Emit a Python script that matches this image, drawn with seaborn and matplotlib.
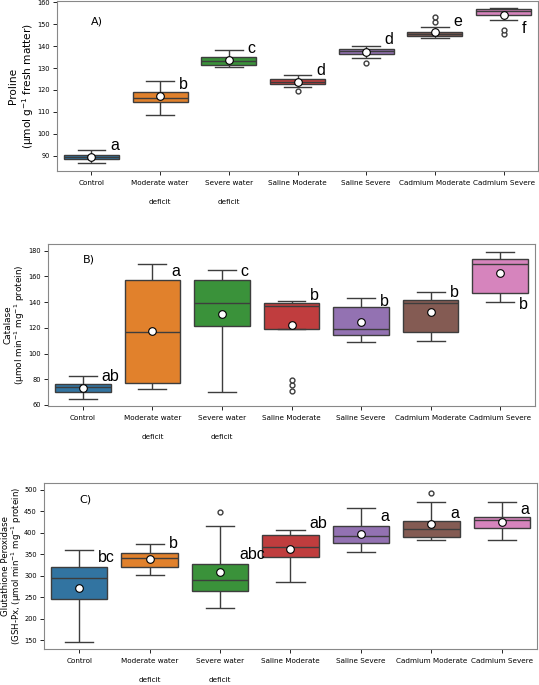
import numpy as np
import pandas as pd
import matplotlib
matplotlib.use("Agg")
import matplotlib.pyplot as plt
import matplotlib.transforms as mtrans
import seaborn as sns

groups = ["Control", "Moderate water deficit", "Severe water deficit",
          "Saline Moderate", "Saline Severe", "Cadmium Moderate", "Cadmium Severe"]
tick_labels = ["Control", "Moderate water\n\ndeficit", "Severe water\n\ndeficit",
               "Saline Moderate", "Saline Severe", "Cadmium Moderate", "Cadmium Severe"]

# samples per treatment (whiskers, quartiles, median, outliers)
proline = [
    [86.6, 88.3, 89.3, 90.4, 92.8],
    [108.5, 114.3, 116.5, 119.1, 124.1],
    [130.5, 131.3, 133.4, 135.0, 138.1],
    [119.3, 121.4, 122.8, 123.3, 123.8, 124.4, 125.0, 126.0, 126.9],
    [132.4, 134.5, 136.5, 137.2, 137.8, 138.4, 138.9, 139.5, 140.0],
    [143.6, 143.9, 144.2, 144.4, 144.9, 145.3, 145.7, 146.0, 146.3, 146.6, 148.8, 151.0, 153.1],
    [145.5, 147.4, 151.7, 154.2, 154.8, 155.4, 156.0, 156.3, 156.6, 157.0, 157.2, 157.4, 157.5],
]
proline_mean = [89.3, 117.0, 133.5, 123.6, 137.3, 146.3, 154.3]
proline_letters = ["a", "b", "c", "d", "d", "e", "f"]
proline_letter_y = [92.4, 120.6, 136.9, 126.6, 141.1, 149.0, 146.0]

catalase = [
    [64.9, 69.9, 73.8, 76.1, 82.9],
    [72.7, 77.1, 116.6, 157.4, 169.6],
    [69.9, 121.8, 139.5, 157.4, 164.7],
    [70.9, 75.3, 79.5, 119.0, 125.0, 132.0, 137.1, 137.6, 138.3, 139.0, 139.6, 140.2, 140.8],
    [108.8, 114.8, 119.0, 136.4, 142.9],
    [109.6, 116.6, 139.2, 141.6, 148.1],
    [140.0, 146.8, 169.6, 173.5, 179.2],
]
catalase_mean = [73.5, 117.9, 130.9, 122.1, 124.2, 132.2, 162.9]
catalase_letters = ["ab", "a", "c", "b", "b", "b", "b"]
catalase_letter_y = [78.7, 160.0, 160.5, 141.8, 137.1, 143.6, 134.8]

gpx = [
    [145.3, 245.3, 294.5, 320.3, 359.4],
    [302.3, 321.1, 341.4, 353.1, 373.4],
    [224.2, 240.0, 264.1, 275.0, 289.0, 310.0, 328.1, 414.1, 448.4],
    [284.4, 343.8, 365.6, 393.8, 405.5],
    [355.5, 376.6, 392.2, 414.8, 457.0],
    [382.8, 386.0, 389.1, 398.0, 408.6, 418.0, 427.3, 471.1, 493.0],
    [382.8, 410.9, 429.7, 436.7, 471.1],
]
gpx_mean = [271.9, 339.0, 308.6, 361.7, 396.1, 419.5, 425.0]
gpx_letters = ["bc", "b", "abc", "ab", "a", "a", "a"]
gpx_letter_y = [330.5, 364.0, 338.3, 410.0, 425.8, 433.6, 442.2]


def long_table(samples):
    rows = []
    for g, vals in zip(groups, samples):
        for v in vals:
            rows.append((g, v))
    return pd.DataFrame(rows, columns=["Treatment", "Value"])


def panel(ax, samples, means, letters, letter_y, ylabel, tag, tag_y, ylim,
          ylabel_size=7, ylabel_spacing=1.2, ylabel_x=-0.044):
    df = long_table(samples)
    sns.boxplot(data=df, x="Treatment", y="Value", hue="Treatment", order=groups,
                hue_order=groups, palette="tab10", legend=False, width=0.8,
                flierprops={"marker": "o", "markersize": 3.5, "markerfacecolor": "white"},
                ax=ax)
    sns.stripplot(x=groups, y=means, order=groups, jitter=False, color="white",
                  edgecolor="black", linewidth=0.8, size=5.5, zorder=10, ax=ax)
    for i, (lt, ly) in enumerate(zip(letters, letter_y)):
        ax.text(i + 0.27, ly, lt, fontsize=11.5, family="Liberation Sans",
                ha="left", va="baseline")
    ax.text(0, tag_y, tag, fontsize=8, ha="left", va="center")
    ax.set_ylim(*ylim)
    ax.set_xlabel("")
    ax.set_ylabel(ylabel, fontsize=ylabel_size, linespacing=ylabel_spacing)
    ax.yaxis.set_label_coords(ylabel_x, 0.5)
    ax.set_xticks(range(len(groups)))
    ax.set_xticklabels(tick_labels, fontsize=5.2, linespacing=1.7)
    # two-line labels sit a little lower than the single-line ones
    shift = mtrans.ScaledTranslation(0, -5 / 100, ax.figure.dpi_scale_trans)
    for lab in ax.get_xticklabels():
        if "\n" in lab.get_text():
            lab.set_transform(lab.get_transform() + shift)
    ax.tick_params(axis="y", labelsize=4.8, length=3.2, width=0.6, pad=1.9)
    ax.tick_params(axis="x", length=3.2, width=0.6)
    for s in ax.spines.values():
        s.set_color("#888888")
        s.set_linewidth(0.8)


fig = plt.figure(figsize=(5.39, 6.85), dpi=100)
ax_a = fig.add_axes([0.1058, 0.7504, 0.8924, 0.2482])
ax_b = fig.add_axes([0.0891, 0.4073, 0.9035, 0.2365])
ax_c = fig.add_axes([0.0816, 0.0526, 0.9147, 0.2416])

panel(ax_a, proline, proline_mean, proline_letters, proline_letter_y,
      "Proline\n(µmol g$^{-1}$ fresh matter)", "A)", 151.2, (83, 160.6),
      ylabel_size=7.6)
panel(ax_b, catalase, catalase_mean, catalase_letters, catalase_letter_y,
      "Catalase\n(µmol min$^{-1}$ mg$^{-1}$ protein)", "B)", 173.5, (59.2, 185.2),
      ylabel_size=6.4, ylabel_spacing=1.0)
panel(ax_c, gpx, gpx_mean, gpx_letters, gpx_letter_y,
      "Glutathione Peroxidase\n(GSH-Px, (µmol min$^{-1}$ mg$^{-1}$ protein)", "C)", 476.6,
      (129.7, 514), ylabel_size=6.2, ylabel_spacing=1.0, ylabel_x=-0.04)
ax_a.set_yticks([90, 100, 110, 120, 130, 140, 150, 160])

fig.savefig("out.png", dpi=100)
